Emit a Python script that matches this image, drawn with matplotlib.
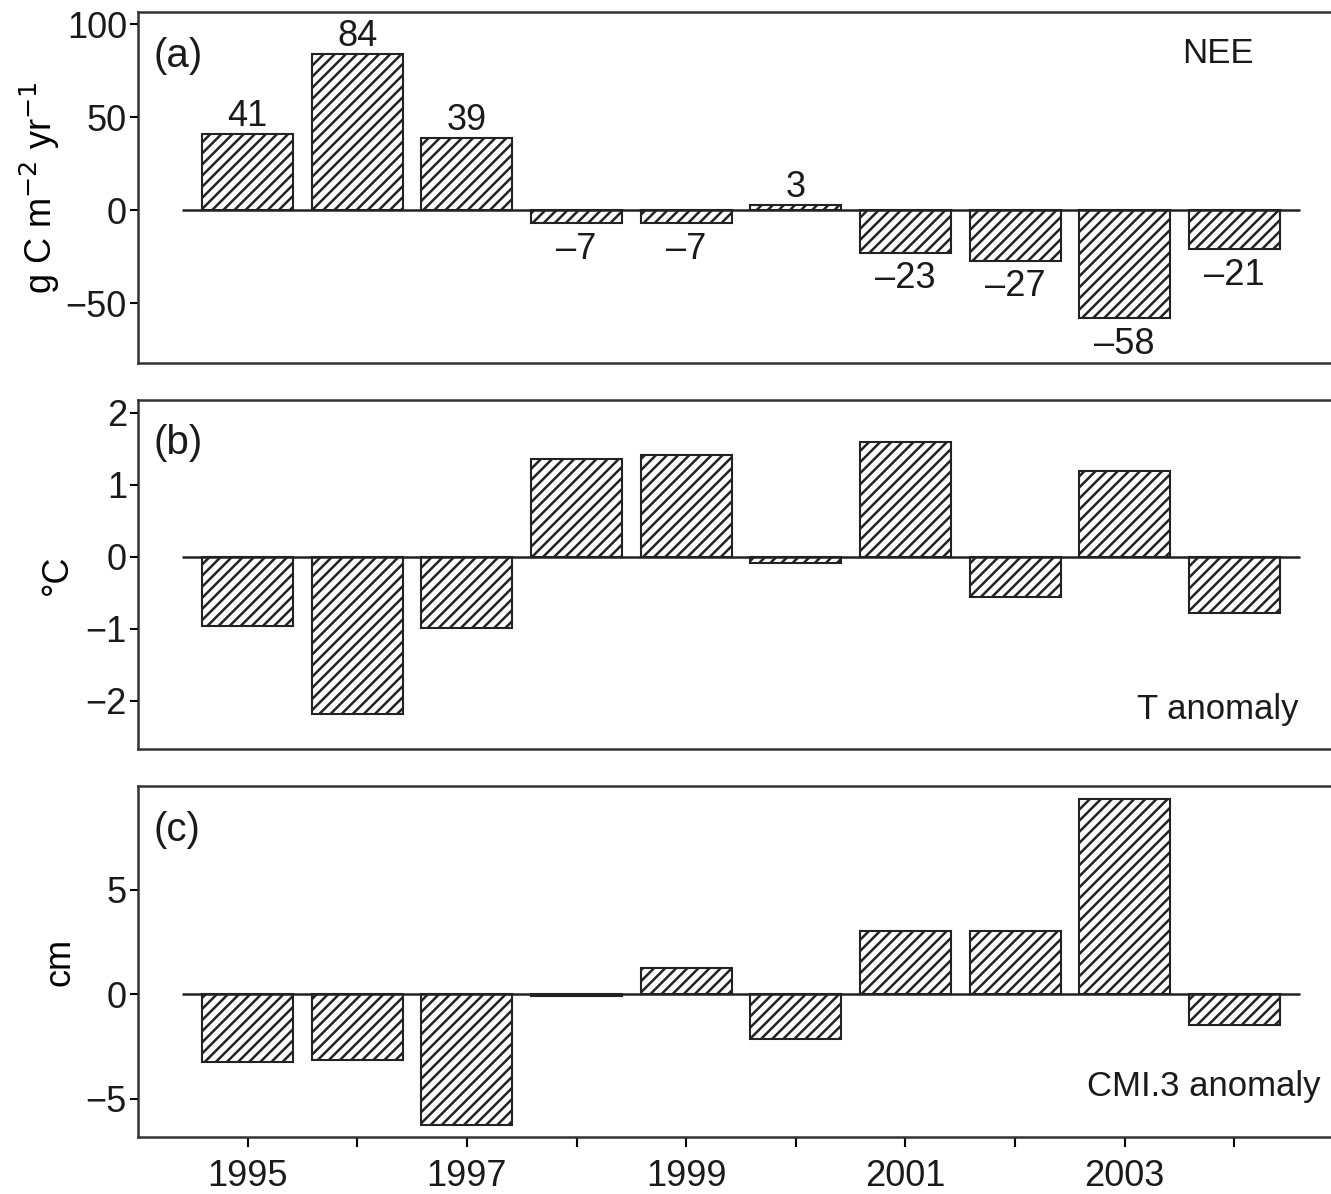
import numpy as np
import matplotlib.pyplot as plt

plt.rcParams['font.family'] = ['Liberation Sans', 'DejaVu Sans']
plt.rcParams['hatch.linewidth'] = 1.8
plt.rcParams['axes.linewidth'] = 1.8
plt.rcParams['axes.edgecolor'] = '#333333'

# data
years = np.arange(1995, 2005)
nee = [41, 84, 39, -7, -7, 3, -23, -27, -58, -21]
t_anom = [-0.96, -2.18, -0.99, 1.36, 1.42, -0.08, 1.60, -0.56, 1.19, -0.78]
cmi_anom = [-3.25, -3.16, -6.27, -0.10, 1.24, -2.15, 3.01, 3.01, 9.33, -1.48]
xtick_labels = ['1995', '', '1997', '', '1999', '', '2001', '', '2003', '']

fs = 25
fig = plt.figure(figsize=(13.31, 11.94), dpi=100)
left, width = 0.1037, 0.906
ax_a = fig.add_axes([left, 0.696, width, 0.294])
ax_b = fig.add_axes([left, 0.3727, width, 0.2923])
ax_c = fig.add_axes([left, 0.0477, width, 0.294])


def draw(ax, vals, ylim, yticks):
    ax.bar(years, vals, width=0.83, color='white', edgecolor='#222222',
           hatch='///', linewidth=1.5, zorder=2)
    ax.hlines(0, 1994.4, 2004.6, color='#222222', lw=1.8, zorder=3)
    ax.set_xlim(1994, 2005)
    ax.set_ylim(*ylim)
    ax.set_yticks(yticks)
    ax.tick_params(axis='y', labelsize=fs + 1, length=6, width=1.5, pad=2,
                   labelcolor='#1a1a1a')
    ax.tick_params(axis='x', labelsize=fs + 1, length=7, width=1.5, pad=9,
                   labelcolor='#1a1a1a')


draw(ax_a, nee, (-82, 106.5), [-50, 0, 50, 100])
draw(ax_b, t_anom, (-2.67, 2.18), [-2, -1, 0, 1, 2])
draw(ax_c, cmi_anom, (-6.84, 9.95), [-5, 0, 5])

for ax in (ax_a, ax_b):
    ax.set_xticks([])
ax_c.set_xticks(years)
ax_c.set_xticklabels(xtick_labels)

# value labels on NEE bars
for x, v in zip(years, nee):
    if v >= 0:
        ax_a.annotate(str(v), (x, v), xytext=(0, 0), textcoords='offset points',
                      ha='center', va='bottom', fontsize=fs + 1, color='#1a1a1a')
    else:
        ax_a.annotate('\u2013' + str(-v), (x, v), xytext=(0, -6),
                      textcoords='offset points', ha='center', va='top',
                      fontsize=fs + 1, color='#1a1a1a')

ax_a.set_ylabel('g C m$^{-2}$ yr$^{-1}$', fontsize=fs + 1)
ax_b.set_ylabel('\u00b0C', fontsize=fs + 1)
ax_c.set_ylabel('cm', fontsize=fs + 1)
ax_a.yaxis.set_label_coords(-0.063, 0.5)
ax_b.yaxis.set_label_coords(-0.052, 0.5)
ax_c.yaxis.set_label_coords(-0.050, 0.5)

for ax, lab in zip((ax_a, ax_b, ax_c), ['(a)', '(b)', '(c)']):
    ax.text(0.013, 0.93, lab, transform=ax.transAxes, fontsize=fs + 4,
            ha='left', va='top', color='#1a1a1a')

ax_a.text(2003.85, 84, 'NEE', fontsize=fs, ha='center', va='center', color='#1a1a1a')
ax_b.text(2003.85, -2.12, 'T anomaly', fontsize=fs, ha='center', va='center', color='#1a1a1a')
ax_c.text(2004.79, -4.4, 'CMI.3 anomaly', fontsize=fs, ha='right', va='center', color='#1a1a1a')

fig.savefig('out.png', dpi=100)
